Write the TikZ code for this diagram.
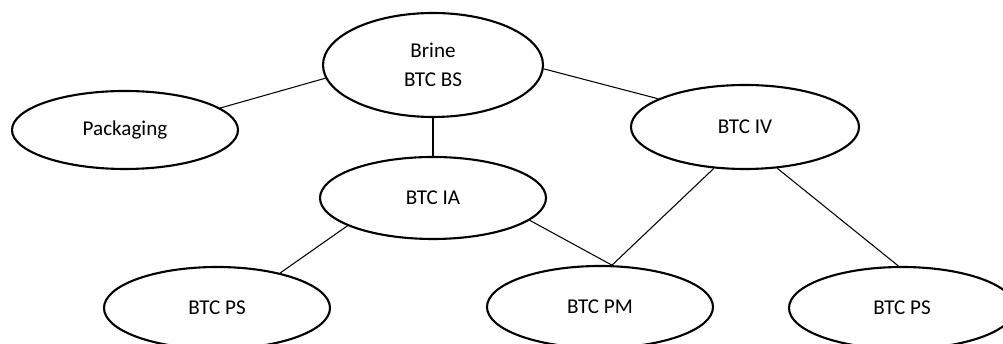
\documentclass[tikz,border=0pt]{standalone}
\usepackage{fontspec}
\setmainfont{Carlito}
\usetikzlibrary{shapes.geometric}

\begin{document}
\begin{tikzpicture}[cap=round]
  % Local definitions
  \def\ovalw{4.52cm}
  \def\ovalh{1.64cm}

  % Styles
  \tikzstyle{oval}=[ellipse,draw,line width=1.2pt,minimum width=\ovalw,minimum height=\ovalh,inner sep=0pt,font=\fontsize{12}{16.5}\selectfont,align=center]
  \tikzstyle{link}=[line width=0.6pt]

  \useasboundingbox (0,0) rectangle (20.06,6.88);

  % Key Nodes
  \node[oval,minimum width=4.4cm,minimum height=2.08cm] (Brine) at (8.66, 5.58) {Brine\\BTC BS};
  \node[oval,minimum height=1.56cm]                      (Pack)  at (2.50, 4.28) {Packaging};
  \node[oval,minimum width=4.56cm,minimum height=1.68cm] (IV)    at (14.90,4.34) {BTC IV};
  \node[oval]                                            (IA)    at (8.66, 2.92) {BTC IA};
  \node[oval]                                            (PSl)   at (4.34, 0.72) {BTC PS};
  \node[oval]                                            (PM)    at (12.00,0.74) {BTC PM};
  \node[oval]                                            (PSr)   at (18.04,0.72) {BTC PS};

  % Links
  \draw[link] (Pack.13)     -- (Brine.187);
  \draw[link] (Brine.358)   -- (IV.162);
  \draw[link] (Brine.south) -- (IA.north);
  \draw[link] (IA.198)      -- (PSl.29);
  \draw[link] (IA.347)      -- (PM.74);
  \draw[link] (IV.233)      -- (PM.74);
  \draw[link] (IV.308)      -- (PSr.95);

\end{tikzpicture}
\end{document}
